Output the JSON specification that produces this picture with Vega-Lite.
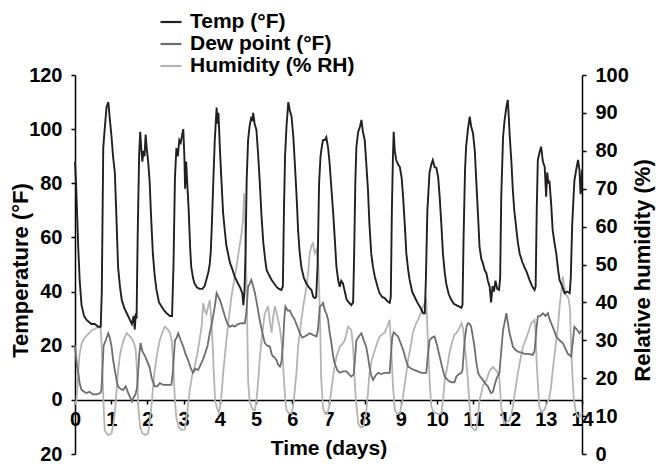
{
  "$schema": "https://vega.github.io/schema/vega-lite/v6.json",
  "width": 507,
  "height": 379,
  "autosize": {"type": "none"},
  "padding": {"left": 75, "top": 75, "right": 74, "bottom": 13},
  "config": {
    "view": {"stroke": null},
    "font": "Liberation Sans",
    "axis": {"grid": false, "domainColor": "#000000", "domainWidth": 1.5, "tickColor": "#000000", "tickWidth": 1.5, "tickSize": 4,
      "labelFont": "Liberation Sans", "labelFontWeight": "bold", "labelFontSize": 20, "labelColor": "#000000",
      "titleFont": "Liberation Sans", "titleFontWeight": "bold", "titleFontSize": 21, "titleColor": "#000000"},
    "legend": {"labelFont": "Liberation Sans", "labelFontWeight": "bold", "labelFontSize": 21, "labelColor": "#000000", "labelLimit": 400}
  },
  "datasets": {
    "temp": [
      {"day":0.00,"v":88},{"day":0.03,"v":80},{"day":0.06,"v":68},{"day":0.09,"v":56},{"day":0.13,"v":44},{"day":0.18,"v":35},{"day":0.25,"v":31},{"day":0.32,"v":29.5},{"day":0.45,"v":28},{"day":0.55,"v":28},{"day":0.64,"v":27},{"day":0.71,"v":27},{"day":0.74,"v":40},{"day":0.78,"v":93},{"day":0.82,"v":100},{"day":0.87,"v":108},{"day":0.92,"v":110},{"day":0.96,"v":104},{"day":1.01,"v":97},{"day":1.05,"v":90},{"day":1.10,"v":84},{"day":1.15,"v":65},{"day":1.19,"v":49},{"day":1.24,"v":42},{"day":1.29,"v":37},{"day":1.36,"v":34},{"day":1.43,"v":32},{"day":1.50,"v":30},{"day":1.57,"v":28},{"day":1.62,"v":31},{"day":1.65,"v":26},{"day":1.68,"v":32},{"day":1.70,"v":30},{"day":1.73,"v":60},{"day":1.77,"v":90},{"day":1.80,"v":99},{"day":1.83,"v":93},{"day":1.86,"v":88},{"day":1.89,"v":92},{"day":1.92,"v":90},{"day":1.95,"v":98},{"day":1.98,"v":93},{"day":2.02,"v":88},{"day":2.06,"v":81},{"day":2.10,"v":68},{"day":2.15,"v":54},{"day":2.20,"v":46},{"day":2.25,"v":40.6},{"day":2.32,"v":36},{"day":2.39,"v":34.5},{"day":2.46,"v":33},{"day":2.53,"v":32},{"day":2.62,"v":31},{"day":2.68,"v":31},{"day":2.72,"v":50},{"day":2.76,"v":82},{"day":2.80,"v":93},{"day":2.84,"v":90},{"day":2.88,"v":96},{"day":2.92,"v":95},{"day":2.96,"v":98},{"day":2.99,"v":100},{"day":3.02,"v":90},{"day":3.04,"v":78},{"day":3.07,"v":88},{"day":3.10,"v":80},{"day":3.14,"v":70},{"day":3.18,"v":56},{"day":3.21,"v":49},{"day":3.26,"v":45},{"day":3.30,"v":43},{"day":3.37,"v":41.5},{"day":3.44,"v":41},{"day":3.52,"v":41},{"day":3.58,"v":42},{"day":3.64,"v":45},{"day":3.68,"v":47},{"day":3.72,"v":50},{"day":3.75,"v":55},{"day":3.78,"v":65},{"day":3.82,"v":81},{"day":3.86,"v":96},{"day":3.89,"v":103},{"day":3.91,"v":108},{"day":3.94,"v":102},{"day":3.96,"v":106},{"day":3.98,"v":100},{"day":4.00,"v":93},{"day":4.04,"v":82},{"day":4.09,"v":69},{"day":4.14,"v":62},{"day":4.18,"v":57},{"day":4.28,"v":50.6},{"day":4.35,"v":48},{"day":4.41,"v":45.5},{"day":4.50,"v":43},{"day":4.55,"v":41.8},{"day":4.62,"v":39.4},{"day":4.65,"v":35},{"day":4.68,"v":40},{"day":4.71,"v":55},{"day":4.74,"v":81},{"day":4.78,"v":96},{"day":4.82,"v":101},{"day":4.87,"v":104.6},{"day":4.90,"v":103},{"day":4.92,"v":106},{"day":4.96,"v":102},{"day":5.01,"v":99.7},{"day":5.05,"v":92},{"day":5.10,"v":81},{"day":5.15,"v":68},{"day":5.20,"v":58},{"day":5.25,"v":52},{"day":5.29,"v":48},{"day":5.36,"v":46},{"day":5.43,"v":44.3},{"day":5.50,"v":43},{"day":5.56,"v":41.8},{"day":5.63,"v":41},{"day":5.70,"v":40.6},{"day":5.74,"v":42},{"day":5.77,"v":70},{"day":5.80,"v":90},{"day":5.84,"v":101},{"day":5.89,"v":110},{"day":5.93,"v":107},{"day":5.98,"v":104.6},{"day":6.03,"v":97},{"day":6.07,"v":87.5},{"day":6.12,"v":75},{"day":6.16,"v":62.8},{"day":6.20,"v":55},{"day":6.25,"v":49},{"day":6.32,"v":45},{"day":6.39,"v":43},{"day":6.46,"v":41.5},{"day":6.53,"v":40.6},{"day":6.58,"v":38},{"day":6.62,"v":37.6},{"day":6.66,"v":38},{"day":6.70,"v":50},{"day":6.74,"v":80},{"day":6.78,"v":90},{"day":6.82,"v":94},{"day":6.85,"v":96},{"day":6.90,"v":96},{"day":6.94,"v":97},{"day":6.99,"v":93},{"day":7.03,"v":87.5},{"day":7.08,"v":78},{"day":7.13,"v":69},{"day":7.18,"v":58},{"day":7.22,"v":49},{"day":7.27,"v":44},{"day":7.31,"v":41.8},{"day":7.35,"v":44},{"day":7.40,"v":43},{"day":7.45,"v":40},{"day":7.50,"v":37},{"day":7.56,"v":36},{"day":7.63,"v":35},{"day":7.68,"v":36},{"day":7.71,"v":55},{"day":7.74,"v":80},{"day":7.77,"v":93.5},{"day":7.82,"v":99},{"day":7.87,"v":101},{"day":7.91,"v":103.4},{"day":7.95,"v":99},{"day":8.00,"v":96},{"day":8.04,"v":88},{"day":8.09,"v":77.5},{"day":8.13,"v":65},{"day":8.18,"v":54},{"day":8.23,"v":49},{"day":8.28,"v":45.5},{"day":8.35,"v":42},{"day":8.41,"v":39.4},{"day":8.48,"v":38},{"day":8.55,"v":37.6},{"day":8.62,"v":36.5},{"day":8.69,"v":35.8},{"day":8.72,"v":38},{"day":8.75,"v":70},{"day":8.78,"v":90},{"day":8.80,"v":99},{"day":8.83,"v":92},{"day":8.87,"v":88.6},{"day":8.92,"v":87},{"day":8.97,"v":86},{"day":9.02,"v":82},{"day":9.06,"v":75},{"day":9.11,"v":64},{"day":9.15,"v":54},{"day":9.20,"v":48},{"day":9.24,"v":44.3},{"day":9.31,"v":40},{"day":9.38,"v":38},{"day":9.45,"v":36},{"day":9.52,"v":34.5},{"day":9.58,"v":33},{"day":9.61,"v":32},{"day":9.66,"v":32},{"day":9.69,"v":45},{"day":9.73,"v":70},{"day":9.79,"v":84},{"day":9.84,"v":87},{"day":9.88,"v":88.6},{"day":9.93,"v":86},{"day":9.98,"v":85.7},{"day":10.03,"v":82},{"day":10.07,"v":75},{"day":10.12,"v":64},{"day":10.16,"v":54},{"day":10.21,"v":47},{"day":10.25,"v":43},{"day":10.32,"v":39},{"day":10.39,"v":37},{"day":10.46,"v":35.5},{"day":10.53,"v":35},{"day":10.60,"v":34.5},{"day":10.67,"v":34},{"day":10.70,"v":35},{"day":10.73,"v":60},{"day":10.77,"v":85},{"day":10.80,"v":93.5},{"day":10.85,"v":100},{"day":10.90,"v":104.6},{"day":10.94,"v":101},{"day":10.99,"v":98.5},{"day":11.04,"v":92},{"day":11.08,"v":81},{"day":11.13,"v":68},{"day":11.17,"v":56.6},{"day":11.22,"v":52},{"day":11.26,"v":50.6},{"day":11.31,"v":48},{"day":11.36,"v":46.8},{"day":11.40,"v":44},{"day":11.45,"v":41.8},{"day":11.49,"v":36},{"day":11.53,"v":42},{"day":11.57,"v":40},{"day":11.61,"v":44},{"day":11.66,"v":41},{"day":11.71,"v":40.6},{"day":11.74,"v":45},{"day":11.77,"v":75},{"day":11.82,"v":97},{"day":11.86,"v":103},{"day":11.91,"v":108},{"day":11.95,"v":110.8},{"day":11.98,"v":104},{"day":12.00,"v":98.5},{"day":12.05,"v":88},{"day":12.09,"v":77.5},{"day":12.13,"v":70},{"day":12.18,"v":64},{"day":12.23,"v":58},{"day":12.28,"v":54},{"day":12.35,"v":51},{"day":12.41,"v":49},{"day":12.48,"v":47},{"day":12.55,"v":44.3},{"day":12.62,"v":42},{"day":12.69,"v":40.6},{"day":12.72,"v":42},{"day":12.75,"v":70},{"day":12.78,"v":88.6},{"day":12.82,"v":91},{"day":12.87,"v":93.5},{"day":12.92,"v":88},{"day":12.97,"v":86},{"day":13.01,"v":75},{"day":13.04,"v":84},{"day":13.07,"v":80},{"day":13.10,"v":81},{"day":13.15,"v":72},{"day":13.19,"v":62.8},{"day":13.24,"v":58},{"day":13.29,"v":54},{"day":13.34,"v":48},{"day":13.38,"v":44.3},{"day":13.45,"v":42},{"day":13.52,"v":39.4},{"day":13.59,"v":40},{"day":13.66,"v":39.4},{"day":13.69,"v":45},{"day":13.73,"v":65},{"day":13.79,"v":81},{"day":13.84,"v":85},{"day":13.89,"v":88.6},{"day":13.93,"v":85},{"day":13.96,"v":76},{"day":13.98,"v":77.5},{"day":14.00,"v":85}
    ],
    "dew": [
      {"day":0.00,"v":20},{"day":0.03,"v":16},{"day":0.06,"v":12},{"day":0.09,"v":10},{"day":0.13,"v":6},{"day":0.18,"v":3.7},{"day":0.25,"v":3},{"day":0.32,"v":2.5},{"day":0.40,"v":3},{"day":0.50,"v":2},{"day":0.60,"v":2},{"day":0.70,"v":2.5},{"day":0.73,"v":3.7},{"day":0.76,"v":12},{"day":0.79,"v":20},{"day":0.85,"v":22},{"day":0.92,"v":24.6},{"day":0.96,"v":23},{"day":1.01,"v":19.7},{"day":1.05,"v":15},{"day":1.10,"v":11},{"day":1.15,"v":7},{"day":1.19,"v":5},{"day":1.26,"v":4},{"day":1.33,"v":3.7},{"day":1.40,"v":5},{"day":1.47,"v":2.5},{"day":1.52,"v":1},{"day":1.57,"v":-0.6},{"day":1.62,"v":1},{"day":1.67,"v":2},{"day":1.72,"v":5},{"day":1.77,"v":16},{"day":1.81,"v":21},{"day":1.86,"v":18},{"day":1.90,"v":17},{"day":1.94,"v":16},{"day":2.00,"v":14},{"day":2.06,"v":12},{"day":2.12,"v":8},{"day":2.20,"v":5},{"day":2.27,"v":5},{"day":2.34,"v":6.2},{"day":2.45,"v":5.5},{"day":2.57,"v":5.5},{"day":2.66,"v":5.5},{"day":2.70,"v":10},{"day":2.76,"v":22},{"day":2.81,"v":23},{"day":2.85,"v":24.6},{"day":2.92,"v":22},{"day":2.99,"v":19.7},{"day":3.05,"v":17},{"day":3.12,"v":14.8},{"day":3.19,"v":12},{"day":3.26,"v":10},{"day":3.33,"v":11.5},{"day":3.40,"v":11},{"day":3.47,"v":13},{"day":3.53,"v":14.8},{"day":3.59,"v":17},{"day":3.66,"v":20},{"day":3.72,"v":24.6},{"day":3.79,"v":29},{"day":3.86,"v":34.5},{"day":3.91,"v":39.4},{"day":3.96,"v":38},{"day":4.00,"v":37},{"day":4.07,"v":34},{"day":4.14,"v":30.8},{"day":4.21,"v":28},{"day":4.28,"v":27},{"day":4.35,"v":27.5},{"day":4.41,"v":27},{"day":4.50,"v":28},{"day":4.60,"v":28.3},{"day":4.69,"v":28.3},{"day":4.73,"v":32},{"day":4.78,"v":41.8},{"day":4.83,"v":43},{"day":4.87,"v":44.3},{"day":4.92,"v":42},{"day":4.97,"v":39.4},{"day":5.03,"v":35},{"day":5.10,"v":29.5},{"day":5.17,"v":25},{"day":5.24,"v":21},{"day":5.31,"v":20},{"day":5.38,"v":19.7},{"day":5.43,"v":17},{"day":5.47,"v":16},{"day":5.52,"v":15.5},{"day":5.56,"v":14.8},{"day":5.61,"v":13},{"day":5.66,"v":12.3},{"day":5.70,"v":14},{"day":5.74,"v":20},{"day":5.78,"v":30},{"day":5.81,"v":34.5},{"day":5.87,"v":33},{"day":5.93,"v":33},{"day":6.00,"v":31},{"day":6.07,"v":29.5},{"day":6.14,"v":27},{"day":6.21,"v":24.6},{"day":6.28,"v":23},{"day":6.34,"v":23.4},{"day":6.41,"v":24},{"day":6.48,"v":24.6},{"day":6.57,"v":24},{"day":6.67,"v":23.4},{"day":6.71,"v":26},{"day":6.76,"v":34.5},{"day":6.81,"v":35},{"day":6.85,"v":35.8},{"day":6.90,"v":33},{"day":6.94,"v":32},{"day":6.99,"v":29.5},{"day":7.03,"v":25},{"day":7.08,"v":21},{"day":7.13,"v":16},{"day":7.17,"v":13.5},{"day":7.24,"v":11},{"day":7.31,"v":10},{"day":7.40,"v":10.5},{"day":7.50,"v":10.5},{"day":7.56,"v":9.5},{"day":7.63,"v":8.6},{"day":7.70,"v":9.5},{"day":7.73,"v":15},{"day":7.77,"v":22},{"day":7.84,"v":23.5},{"day":7.91,"v":24.6},{"day":7.97,"v":22},{"day":8.04,"v":19.7},{"day":8.09,"v":16},{"day":8.13,"v":12.3},{"day":8.18,"v":9},{"day":8.23,"v":7.4},{"day":8.30,"v":9},{"day":8.37,"v":10},{"day":8.46,"v":9.5},{"day":8.55,"v":10},{"day":8.62,"v":10},{"day":8.69,"v":10},{"day":8.72,"v":16},{"day":8.76,"v":23},{"day":8.80,"v":25},{"day":8.87,"v":24},{"day":8.92,"v":23.4},{"day":8.99,"v":21},{"day":9.06,"v":18.5},{"day":9.13,"v":15},{"day":9.20,"v":12.3},{"day":9.29,"v":11.5},{"day":9.38,"v":11},{"day":9.47,"v":10.5},{"day":9.56,"v":10},{"day":9.63,"v":10},{"day":9.70,"v":10},{"day":9.74,"v":16},{"day":9.79,"v":22},{"day":9.86,"v":23},{"day":9.93,"v":23.4},{"day":10.00,"v":20},{"day":10.07,"v":16},{"day":10.14,"v":12},{"day":10.21,"v":8.6},{"day":10.28,"v":7.5},{"day":10.34,"v":6.8},{"day":10.41,"v":6.5},{"day":10.48,"v":6.5},{"day":10.53,"v":8.6},{"day":10.60,"v":9.5},{"day":10.67,"v":10},{"day":10.70,"v":11},{"day":10.76,"v":22},{"day":10.81,"v":27},{"day":10.85,"v":28.3},{"day":10.90,"v":28},{"day":10.94,"v":27},{"day":10.99,"v":23},{"day":11.03,"v":19.7},{"day":11.08,"v":14},{"day":11.13,"v":10},{"day":11.19,"v":8.5},{"day":11.26,"v":7.4},{"day":11.33,"v":6},{"day":11.40,"v":5},{"day":11.45,"v":3.5},{"day":11.49,"v":2.5},{"day":11.54,"v":3},{"day":11.58,"v":5},{"day":11.63,"v":7.4},{"day":11.68,"v":9},{"day":11.72,"v":10},{"day":11.77,"v":18},{"day":11.82,"v":25.8},{"day":11.87,"v":29},{"day":11.91,"v":32},{"day":11.96,"v":28},{"day":12.00,"v":24.6},{"day":12.05,"v":22},{"day":12.09,"v":19.7},{"day":12.16,"v":18.5},{"day":12.23,"v":17.8},{"day":12.32,"v":17.5},{"day":12.41,"v":17},{"day":12.52,"v":17},{"day":12.64,"v":16.6},{"day":12.69,"v":18},{"day":12.74,"v":26},{"day":12.78,"v":30.8},{"day":12.85,"v":31},{"day":12.92,"v":32},{"day":12.99,"v":31},{"day":13.06,"v":32},{"day":13.10,"v":30},{"day":13.15,"v":28.3},{"day":13.22,"v":26},{"day":13.29,"v":23.4},{"day":13.38,"v":22},{"day":13.47,"v":21},{"day":13.54,"v":19},{"day":13.61,"v":17},{"day":13.66,"v":16.5},{"day":13.70,"v":16},{"day":13.75,"v":22},{"day":13.79,"v":27},{"day":13.86,"v":26},{"day":13.93,"v":24.6},{"day":14.00,"v":25.8}
    ],
    "hum": [
      {"day":0.00,"v":14},{"day":0.03,"v":13},{"day":0.07,"v":18},{"day":0.12,"v":26},{"day":0.18,"v":29},{"day":0.25,"v":30.5},{"day":0.35,"v":31.5},{"day":0.45,"v":32.5},{"day":0.55,"v":33},{"day":0.64,"v":33.6},{"day":0.71,"v":33},{"day":0.74,"v":28},{"day":0.78,"v":15},{"day":0.82,"v":6.3},{"day":0.87,"v":5.5},{"day":0.92,"v":5},{"day":1.01,"v":5.5},{"day":1.06,"v":8},{"day":1.10,"v":10.8},{"day":1.15,"v":17},{"day":1.19,"v":22},{"day":1.24,"v":26},{"day":1.29,"v":28.3},{"day":1.36,"v":30.5},{"day":1.43,"v":31.9},{"day":1.52,"v":31},{"day":1.60,"v":30},{"day":1.67,"v":28},{"day":1.70,"v":24},{"day":1.72,"v":19.5},{"day":1.75,"v":12},{"day":1.80,"v":7},{"day":1.86,"v":5.5},{"day":1.94,"v":5},{"day":2.02,"v":5.5},{"day":2.07,"v":9},{"day":2.11,"v":12.5},{"day":2.15,"v":17},{"day":2.20,"v":22},{"day":2.27,"v":26.5},{"day":2.34,"v":30},{"day":2.41,"v":32},{"day":2.48,"v":33.6},{"day":2.55,"v":33},{"day":2.62,"v":32},{"day":2.67,"v":30},{"day":2.71,"v":24},{"day":2.76,"v":14},{"day":2.80,"v":9.5},{"day":2.87,"v":7},{"day":2.94,"v":6.3},{"day":3.03,"v":6.5},{"day":3.10,"v":11},{"day":3.17,"v":16.9},{"day":3.24,"v":21},{"day":3.30,"v":23},{"day":3.37,"v":26},{"day":3.44,"v":30},{"day":3.50,"v":34},{"day":3.54,"v":39.8},{"day":3.58,"v":38},{"day":3.63,"v":37},{"day":3.68,"v":39},{"day":3.72,"v":40.6},{"day":3.76,"v":36},{"day":3.80,"v":29},{"day":3.84,"v":20},{"day":3.87,"v":14},{"day":3.91,"v":12.5},{"day":3.96,"v":11},{"day":4.00,"v":12},{"day":4.05,"v":16},{"day":4.09,"v":21.4},{"day":4.14,"v":26},{"day":4.18,"v":30},{"day":4.25,"v":36},{"day":4.32,"v":41.5},{"day":4.39,"v":45.5},{"day":4.46,"v":49.4},{"day":4.53,"v":54},{"day":4.60,"v":58.3},{"day":4.64,"v":62},{"day":4.67,"v":68.8},{"day":4.70,"v":58},{"day":4.74,"v":44},{"day":4.78,"v":19.5},{"day":4.82,"v":14},{"day":4.87,"v":12.5},{"day":4.92,"v":11.6},{"day":4.97,"v":11.6},{"day":5.02,"v":15},{"day":5.06,"v":19.5},{"day":5.10,"v":25},{"day":5.15,"v":30},{"day":5.20,"v":34},{"day":5.24,"v":37},{"day":5.29,"v":38},{"day":5.33,"v":39},{"day":5.38,"v":35},{"day":5.43,"v":32},{"day":5.47,"v":36},{"day":5.52,"v":39},{"day":5.57,"v":37},{"day":5.61,"v":35.4},{"day":5.66,"v":33},{"day":5.70,"v":30},{"day":5.74,"v":25},{"day":5.77,"v":19.5},{"day":5.81,"v":14},{"day":5.84,"v":11.6},{"day":5.90,"v":10.8},{"day":5.98,"v":10.8},{"day":6.03,"v":13},{"day":6.07,"v":16.9},{"day":6.12,"v":22},{"day":6.16,"v":28.3},{"day":6.21,"v":32},{"day":6.25,"v":35.4},{"day":6.32,"v":40},{"day":6.39,"v":44},{"day":6.44,"v":48},{"day":6.48,"v":53},{"day":6.53,"v":55},{"day":6.57,"v":55.6},{"day":6.62,"v":53},{"day":6.67,"v":54},{"day":6.72,"v":50},{"day":6.76,"v":38},{"day":6.80,"v":19.5},{"day":6.85,"v":12},{"day":6.90,"v":10.8},{"day":6.97,"v":10.8},{"day":7.03,"v":13},{"day":7.08,"v":17},{"day":7.15,"v":22},{"day":7.22,"v":25.7},{"day":7.31,"v":28.3},{"day":7.38,"v":29},{"day":7.45,"v":30},{"day":7.50,"v":32},{"day":7.54,"v":33.6},{"day":7.63,"v":32.7},{"day":7.68,"v":28.3},{"day":7.72,"v":20},{"day":7.75,"v":15},{"day":7.82,"v":8.1},{"day":7.89,"v":7},{"day":7.96,"v":7.2},{"day":8.04,"v":10.8},{"day":8.09,"v":16},{"day":8.13,"v":21.4},{"day":8.20,"v":25},{"day":8.28,"v":27.4},{"day":8.35,"v":29.5},{"day":8.41,"v":31},{"day":8.48,"v":31.5},{"day":8.55,"v":32},{"day":8.62,"v":33.5},{"day":8.69,"v":35.4},{"day":8.73,"v":28.3},{"day":8.78,"v":18},{"day":8.83,"v":11.6},{"day":8.90,"v":10.5},{"day":8.97,"v":10.8},{"day":9.04,"v":14},{"day":9.10,"v":18},{"day":9.15,"v":21.5},{"day":9.20,"v":25},{"day":9.27,"v":28.5},{"day":9.33,"v":32},{"day":9.40,"v":34},{"day":9.47,"v":35.4},{"day":9.54,"v":37},{"day":9.61,"v":38.9},{"day":9.70,"v":40.6},{"day":9.75,"v":28.3},{"day":9.80,"v":18},{"day":9.84,"v":12.5},{"day":9.91,"v":11},{"day":9.98,"v":10.8},{"day":10.05,"v":10.5},{"day":10.12,"v":10.8},{"day":10.17,"v":15},{"day":10.21,"v":19.5},{"day":10.28,"v":23},{"day":10.34,"v":26.6},{"day":10.41,"v":29.5},{"day":10.48,"v":31.5},{"day":10.53,"v":31.9},{"day":10.60,"v":33},{"day":10.67,"v":34.5},{"day":10.72,"v":33},{"day":10.76,"v":29},{"day":10.81,"v":24},{"day":10.85,"v":19.5},{"day":10.90,"v":12},{"day":10.94,"v":7.2},{"day":11.01,"v":6.5},{"day":11.08,"v":6.3},{"day":11.13,"v":10},{"day":11.17,"v":14.2},{"day":11.22,"v":16},{"day":11.26,"v":18},{"day":11.36,"v":19.5},{"day":11.45,"v":22},{"day":11.54,"v":23},{"day":11.63,"v":22},{"day":11.71,"v":21},{"day":11.74,"v":17},{"day":11.77,"v":12.5},{"day":11.82,"v":9.5},{"day":11.86,"v":8.1},{"day":11.93,"v":8.5},{"day":12.00,"v":9},{"day":12.05,"v":10.5},{"day":12.09,"v":12.5},{"day":12.16,"v":17},{"day":12.23,"v":21.4},{"day":12.30,"v":25},{"day":12.37,"v":28.3},{"day":12.44,"v":30},{"day":12.51,"v":31.9},{"day":12.60,"v":34.5},{"day":12.69,"v":35.4},{"day":12.72,"v":32},{"day":12.75,"v":23.8},{"day":12.79,"v":17},{"day":12.82,"v":12.5},{"day":12.88,"v":11},{"day":12.95,"v":11.5},{"day":13.02,"v":13},{"day":13.10,"v":15},{"day":13.15,"v":18},{"day":13.19,"v":22},{"day":13.24,"v":26},{"day":13.29,"v":30},{"day":13.34,"v":34},{"day":13.38,"v":38.9},{"day":13.43,"v":43},{"day":13.47,"v":46.8},{"day":13.51,"v":44},{"day":13.56,"v":42},{"day":13.63,"v":41},{"day":13.67,"v":38},{"day":13.70,"v":28},{"day":13.74,"v":20},{"day":13.77,"v":15},{"day":13.83,"v":11},{"day":13.89,"v":9.9},{"day":13.95,"v":10},{"day":14.00,"v":11}
    ]
  },
  "encoding": {
    "x": {"field": "day", "type": "quantitative", "scale": {"domain": [0, 14], "nice": false, "zero": false},
      "axis": {"values": [0,1,2,3,4,5,6,7,8,9,10,11,12,13,14], "offset": -54, "title": "Time (days)", "labelPadding": 5, "titlePadding": 8, "labelFlush": false}}
  },
  "layer": [
    {
      "data": {"name": "hum"},
      "transform": [{"calculate": "'Humidity (% RH)'", "as": "series"}],
      "mark": {"type": "line", "strokeWidth": 1.8, "interpolate": "linear"},
      "encoding": {
        "y": {"field": "v", "type": "quantitative", "scale": {"domain": [0, 100], "nice": false, "zero": false},
          "axis": {"orient": "right", "values": [0,10,20,30,40,50,60,70,80,90,100], "title": "Relative humidity (%)", "labelPadding": 9, "titleFontSize": 22, "titleAngle": -90, "titleX": 67, "titleY": 195, "titleBaseline": "alphabetic", "titleAlign": "center"}},
        "color": {"field": "series", "type": "nominal"}
      }
    },
    {
      "data": {"name": "dew"},
      "transform": [{"calculate": "'Dew point (°F)'", "as": "series"}],
      "mark": {"type": "line", "strokeWidth": 1.8},
      "encoding": {
        "y": {"field": "v", "type": "quantitative", "scale": {"domain": [-20, 120], "nice": false, "zero": false}, "axis": null},
        "color": {"field": "series", "type": "nominal"}
      }
    },
    {
      "data": {"name": "temp"},
      "transform": [{"calculate": "'Temp (°F)'", "as": "series"}],
      "mark": {"type": "line", "strokeWidth": 1.9},
      "encoding": {
        "y": {"field": "v", "type": "quantitative", "scale": {"domain": [-20, 120], "nice": false, "zero": false},
          "axis": {"orient": "left", "values": [-20,0,20,40,60,80,100,120], "labelExpr": "format(abs(datum.value), 'd')", "title": "Temperature (°F)", "labelPadding": 9, "titleFontSize": 22, "titleAngle": -90, "titleX": -55, "titleY": 195, "titleBaseline": "middle", "titleAlign": "center"}},
        "color": {"field": "series", "type": "nominal",
          "scale": {"domain": ["Temp (°F)", "Dew point (°F)", "Humidity (% RH)"], "range": ["#231f20", "#6e6e6e", "#b4b4b4"]},
          "legend": {"title": null, "orient": "none", "legendX": 84, "legendY": -65, "symbolType": "stroke", "symbolSize": 441, "symbolStrokeWidth": 2.2, "labelOffset": 7, "rowPadding": 0, "padding": 0}}
      }
    }
  ],
  "resolve": {"scale": {"y": "independent"}}
}
